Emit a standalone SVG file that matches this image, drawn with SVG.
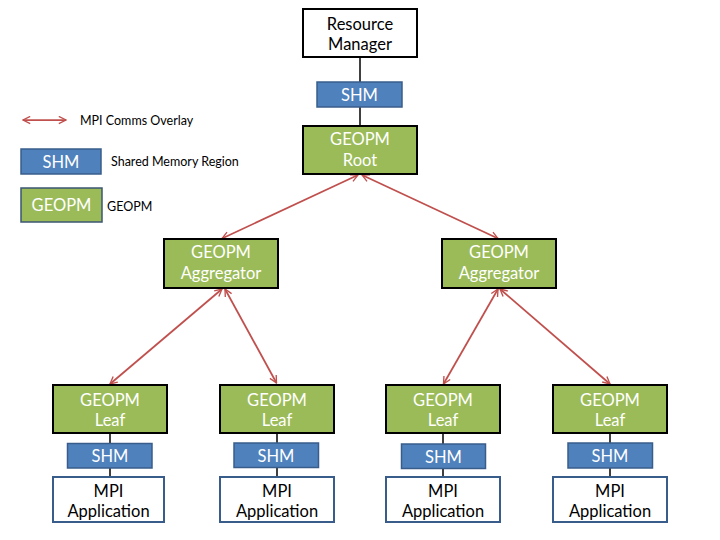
<svg xmlns="http://www.w3.org/2000/svg" width="720" height="540" viewBox="0 0 720 540">
<defs>
<style>
.t{font-family:Lato,"Liberation Sans",sans-serif;font-size:16.5px;text-anchor:middle}
.w{fill:#ffffff}
.k{fill:#000000}
.lg{font-family:Lato,"Liberation Sans",sans-serif;font-size:12.5px;fill:#000}
.green{fill:#9BBB59;stroke:#000;stroke-width:2}
.shm{fill:#4F81BD;stroke:#385D8A;stroke-width:1.5}
.app{fill:#fff;stroke:#385D8A;stroke-width:2}
.rm{fill:#fff;stroke:#000;stroke-width:2}
.link{stroke:#000;stroke-width:1.5;fill:none}
.mpi{stroke:#C0504D;stroke-width:1.75;fill:none;marker-start:url(#ah);marker-end:url(#ah)}
</style>
<marker id="ah" viewBox="0 0 10 10" refX="9" refY="5" markerWidth="9" markerHeight="9" orient="auto-start-reverse" markerUnits="userSpaceOnUse">
<path d="M1,1 L9,5 L1,9" fill="none" stroke="#C0504D" stroke-width="1.5"/>
</marker>
</defs>
<rect width="720" height="540" fill="#fff"/>

<g id="legend">
<line class="mpi" x1="23" y1="120" x2="66" y2="120"/>
<text class="lg" x="80" y="125">MPI Comms Overlay</text>
<rect class="shm" x="21" y="149" width="80" height="25"/>
<text class="t w" x="61" y="168">SHM</text>
<text class="lg" x="111" y="166">Shared Memory Region</text>
<rect x="21" y="188" width="81" height="34" fill="#9BBB59" stroke="#3B5573" stroke-width="1.5"/>
<text class="t w" x="61.5" y="211">GEOPM</text>
<text class="lg" x="107" y="211">GEOPM</text>
</g>

<g id="connectors">
<line class="link" x1="360" y1="57" x2="360" y2="82"/>
<line class="link" x1="360" y1="107" x2="360" y2="126"/>
<line class="link" x1="110" y1="433" x2="110" y2="477"/>
<line class="link" x1="277" y1="433" x2="277" y2="477"/>
<line class="link" x1="443" y1="433" x2="443" y2="477"/>
<line class="link" x1="610" y1="433" x2="610" y2="477"/>
<line class="mpi" x1="358" y1="175" x2="222" y2="238.5"/>
<line class="mpi" x1="362" y1="175" x2="498" y2="238.5"/>
<line class="mpi" x1="222" y1="289" x2="110" y2="384"/>
<line class="mpi" x1="225" y1="289" x2="276.5" y2="383"/>
<line class="mpi" x1="498" y1="289" x2="443.5" y2="384"/>
<line class="mpi" x1="500" y1="289" x2="610" y2="384"/>
</g>

<g id="resource-manager">
<rect class="rm" x="303" y="9" width="114" height="48"/>
<text class="t k" x="360" y="30">Resource</text>
<text class="t k" x="360" y="50">Manager</text>
</g>
<g id="shm-root">
<rect class="shm" x="317" y="82" width="85" height="25"/>
<text class="t w" x="359.5" y="101">SHM</text>
</g>
<g id="geopm-root">
<rect class="green" x="303" y="126" width="114" height="48"/>
<text class="t w" x="360" y="145">GEOPM</text>
<text class="t w" x="360" y="165.5">Root</text>
</g>
<g id="aggregator-left">
<rect class="green" x="164" y="239" width="114" height="49"/>
<text class="t w" x="221" y="258">GEOPM</text>
<text class="t w" x="221" y="279">Aggregator</text>
</g>
<g id="aggregator-right">
<rect class="green" x="442" y="239" width="114" height="49"/>
<text class="t w" x="499" y="258">GEOPM</text>
<text class="t w" x="499" y="279">Aggregator</text>
</g>

<g id="leaf-1">
<rect class="green" x="53" y="385" width="114" height="48"/>
<text class="t w" x="110" y="406">GEOPM</text>
<text class="t w" x="110" y="426">Leaf</text>
</g>
<g id="shm-1">
<rect class="shm" x="67.5" y="443.5" width="84.5" height="24.5"/>
<text class="t w" x="110" y="462">SHM</text>
</g>
<g id="app-1">
<rect class="app" x="53" y="477" width="111" height="45"/>
<text class="t k" x="108.5" y="497">MPI</text>
<text class="t k" x="108.5" y="517">Application</text>
</g>

<g id="leaf-2">
<rect class="green" x="220" y="385" width="114" height="48"/>
<text class="t w" x="277" y="406">GEOPM</text>
<text class="t w" x="277" y="426">Leaf</text>
</g>
<g id="shm-2">
<rect class="shm" x="234" y="443" width="84.5" height="24.5"/>
<text class="t w" x="276" y="461.5">SHM</text>
</g>
<g id="app-2">
<rect class="app" x="220" y="477" width="114" height="45"/>
<text class="t k" x="277" y="497">MPI</text>
<text class="t k" x="277" y="517">Application</text>
</g>

<g id="leaf-3">
<rect class="green" x="386" y="385" width="114" height="48"/>
<text class="t w" x="443" y="406">GEOPM</text>
<text class="t w" x="443" y="426">Leaf</text>
</g>
<g id="shm-3">
<rect class="shm" x="401.5" y="444" width="84" height="24.5"/>
<text class="t w" x="443.5" y="462.5">SHM</text>
</g>
<g id="app-3">
<rect class="app" x="386" y="477" width="114" height="45"/>
<text class="t k" x="443" y="497">MPI</text>
<text class="t k" x="443" y="517">Application</text>
</g>

<g id="leaf-4">
<rect class="green" x="553" y="385" width="114" height="48"/>
<text class="t w" x="610" y="406">GEOPM</text>
<text class="t w" x="610" y="426">Leaf</text>
</g>
<g id="shm-4">
<rect class="shm" x="568" y="443" width="84.5" height="25"/>
<text class="t w" x="610" y="462">SHM</text>
</g>
<g id="app-4">
<rect class="app" x="553" y="477" width="114" height="45"/>
<text class="t k" x="610" y="497">MPI</text>
<text class="t k" x="610" y="517">Application</text>
</g>
</svg>
